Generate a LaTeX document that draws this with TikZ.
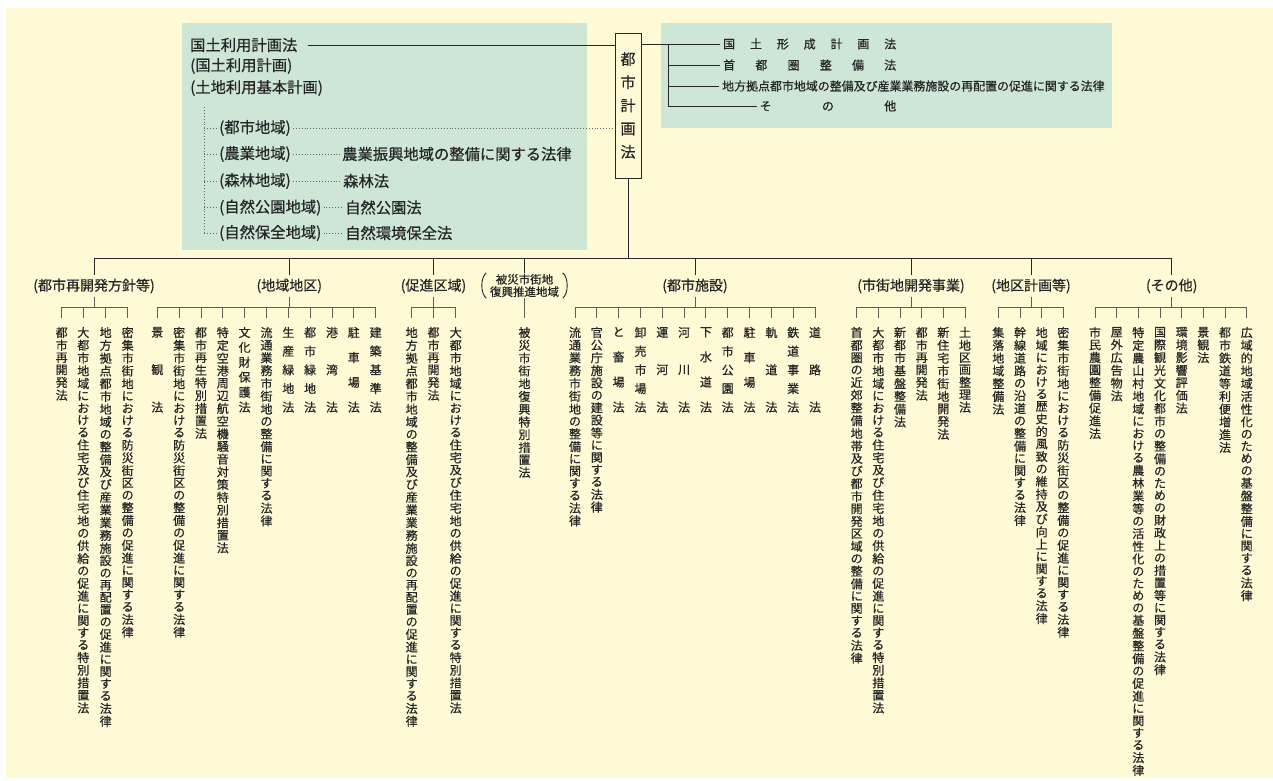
\documentclass[tikz,border=0pt]{standalone}
\usepackage{fontspec}
\setmainfont{Noto Sans CJK JP}[FakeBold=0.6]
\usetikzlibrary{calc}
\definecolor{bgy}{RGB}{255,250,214}
\definecolor{bgg}{RGB}{205,230,214}
\definecolor{ink}{RGB}{38,38,38}
\definecolor{subln}{RGB}{95,95,90}
\newcommand\vtchar[1]{\hbox to 12pt{\hss\vrule width0pt height9.4pt depth2.7pt\relax #1\hss}}
\makeatletter
\def\vt@loop#1{\ifx\relax#1\else\vtchar{#1}\expandafter\vt@loop\fi}
\newcommand\vtxt[1]{\vbox{\offinterlineskip\vt@loop#1\relax}}
\def\vs@first#1{\vtchar{#1}\vs@rest}
\def\vs@rest#1{\ifx\relax#1\else\vfill\vtchar{#1}\expandafter\vs@rest\fi}
\newcommand\vspread[1]{\vbox to 84.7pt{\offinterlineskip\vs@first#1\relax}}
\makeatother
\tikzset{
  ln/.style={draw=ink, line width=0.9pt},
  subl/.style={draw=subln, line width=0.9pt},
  dotl/.style={draw=black!60, line width=0.9pt, dash pattern=on 0.9pt off 2pt},
  lt/.style={anchor=west, inner ysep=0pt, inner xsep=2pt, font=\fontsize{15.3}{16}\selectfont, text=ink},
  rt/.style={anchor=west, inner ysep=0pt, inner xsep=3pt, font=\fontsize{11.95}{13}\selectfont, text=ink},
  cat/.style={inner sep=0pt, minimum height=22pt, font=\fontsize{14}{14}\selectfont, text=ink},
  col/.style={inner sep=0pt, outer ysep=9pt, anchor=north, font=\fontsize{12}{12}\selectfont, text=ink},
}
\begin{document}
\begin{tikzpicture}[x=1pt,y=-1pt]
\useasboundingbox (0,0) rectangle (1273,780);
\fill[white] (0,0) rectangle (1273,780);
\fill[bgy] (6,8) rectangle (1273,778);
\fill[bgg] (182,23) rectangle (587,250);
\fill[bgg] (661,23) rectangle (1112,128);

% title box
\node[draw=ink, line width=0.9pt, fill=bgy, minimum width=26pt, minimum height=145pt, inner sep=0pt, align=center, font=\fontsize{15}{23.2}\selectfont, text=ink] (toshi) at (628,105.5) {都\\市\\計\\画\\法};

% left box
\node[lt] (L0) at (188,45) {国土利用計画法};
\node[lt] (L1) at (188,66) {(国土利用計画)};
\node[lt] (L2) at (188,88) {(土地利用基本計画)};
\coordinate (dl) at (204,107);
\node[lt] (a1) at (217,128) {(都市地域)};
\node[lt] (a2) at (217,154) {(農業地域)};
\node[lt] (a3) at (217,181) {(森林地域)};
\node[lt] (a4) at (217,207.5) {(自然公園地域)};
\node[lt] (a5) at (217,233) {(自然保全地域)};
\node[lt] (b2) at (340,154) {農業振興地域の整備に関する法律};
\node[lt] (b3) at (341,181) {森林法};
\node[lt] (b4) at (343,207.5) {自然公園法};
\node[lt] (b5) at (343,233) {自然環境保全法};
\draw[ln] ([xshift=8pt]L0.east) -- (L0.east -| toshi.west);
\draw[dotl] (dl) -- (dl |- a5);
\foreach \n in {a1,a2,a3,a4,a5} \draw[dotl] (dl |- \n) -- (\n.west);
\draw[dotl] (a1.east) -- (a1.east -| toshi.west);
\draw[dotl] (a2.east) -- (b2.west);
\draw[dotl] (a3.east) -- (b3.west);
\draw[dotl] (a4.east) -- (b4.west);
\draw[dotl] (a5.east) -- (b5.west);

% right box
\node[rt] (r1) at (720,44) {\makebox[173pt][s]{国\hfill 土\hfill 形\hfill 成\hfill 計\hfill 画\hfill 法}};
\node[rt] (r2) at (720,65) {\makebox[173pt][s]{首\hfill 都\hfill 圏\hfill 整\hfill 備\hfill 法}};
\node[rt] (r3) at (719,86) {地方拠点都市地域の整備及び産業業務施設の再配置の促進に関する法律};
\node[rt] (r4) at (756.5,106) {\makebox[136.5pt][s]{そ\hfill の\hfill 他}};
\coordinate (br) at (668,44);
\draw[ln] (toshi.east |- r1) -- (r1.west);
\draw[ln] (br) -- (br |- r4);
\draw[ln] (br |- r2) -- (r2.west);
\draw[ln] (br |- r3) -- (r3.west);
\draw[ln] (br |- r4) -- (r4.west);

% categories
\coordinate (bus) at (0,258);
\coordinate (sb) at (0,307);
\node[cat] (c1) at (94,286) {(都市再開発方針等)};
\node[cat] (c2) at (289.3,286) {(地域地区)};
\node[cat] (c3) at (433.5,286) {(促進区域)};
\node[inner sep=0pt, minimum width=86pt, minimum height=25pt, align=center, font=\fontsize{11.5}{12.4}\selectfont, text=ink] (c4) at (524.5,285.5) {被災市街地\\復興推進地域};
\node[cat] (c5) at (695,286) {(都市施設)};
\node[cat] (c6) at (911,286) {(市街地開発事業)};
\node[cat] (c7) at (1031,286) {(地区計画等)};
\node[cat] (c8) at (1171.7,286) {(その他)};
\draw[ln] ($(c4.north west)+(5,0)$) .. controls ($(c4.west)+(-1,-8)$) and ($(c4.west)+(-1,8)$) .. ($(c4.south west)+(5,0)$);
\draw[ln] ($(c4.north east)+(-5,0)$) .. controls ($(c4.east)+(1,-8)$) and ($(c4.east)+(1,8)$) .. ($(c4.south east)+(-5,0)$);

\draw[ln] (toshi.south) -- (toshi.south |- bus);
\draw[ln] (c1.north |- bus) -- (c8.north |- bus);
\foreach \n in {c1,c2,c3,c4,c5,c6,c7,c8} \draw[ln] (\n.north) -- (\n.north |- bus);
\foreach \n in {c1,c2,c3,c5,c6,c7,c8} \draw[subl] (\n.south) -- (\n.south |- sb);

% group 1
\node[col] (v11) at (61.7,318) {\vtxt{都市再開発法}};
\node[col] (v12) at (83.3,318) {\vtxt{大都市地域における住宅及び住宅地の供給の促進に関する特別措置法}};
\node[col] (v13) at (105.7,318) {\vtxt{地方拠点都市地域の整備及び産業業務施設の再配置の促進に関する法律}};
\node[col] (v14) at (127.7,318) {\vtxt{密集市街地における防災街区の整備の促進に関する法律}};
\draw[subl] (v11.north |- sb) -- (v14.north |- sb);
\foreach \n in {v11,v12,v13,v14} \draw[subl] (\n.north) -- (\n.north |- sb);

% group 2
\node[col] (v21) at (157.3,318) {\vspread{景観法}};
\node[col] (v22) at (179.2,318) {\vtxt{密集市街地における防災街区の整備の促進に関する法律}};
\node[col] (v23) at (201.0,318) {\vtxt{都市再生特別措置法}};
\node[col] (v24) at (222.8,318) {\vtxt{特定空港周辺航空機騒音対策特別措置法}};
\node[col] (v25) at (244.6,318) {\vspread{文化財保護法}};
\node[col] (v26) at (266.5,318) {\vtxt{流通業務市街地の整備に関する法律}};
\node[col] (v27) at (288.3,318) {\vspread{生産緑地法}};
\node[col] (v28) at (310.1,318) {\vspread{都市緑地法}};
\node[col] (v29) at (332.0,318) {\vspread{港湾法}};
\node[col] (v2a) at (353.8,318) {\vspread{駐車場法}};
\node[col] (v2b) at (375.7,318) {\vspread{建築基準法}};
\draw[subl] (v21.north |- sb) -- (v2b.north |- sb);
\foreach \n in {v21,v22,v23,v24,v25,v26,v27,v28,v29,v2a,v2b} \draw[subl] (\n.north) -- (\n.north |- sb);

% group 3
\node[col] (v31) at (411.7,318) {\vtxt{地方拠点都市地域の整備及び産業業務施設の再配置の促進に関する法律}};
\node[col] (v32) at (433.5,318) {\vtxt{都市再開発法}};
\node[col] (v33) at (455.7,318) {\vtxt{大都市地域における住宅及び住宅地の供給の促進に関する特別措置法}};
\draw[subl] (v31.north |- sb) -- (v33.north |- sb);
\foreach \n in {v31,v32,v33} \draw[subl] (\n.north) -- (\n.north |- sb);

% group 4
\node[col] (v41) at (524.5,318) {\vtxt{被災市街地復興特別措置法}};
\draw[subl] (c4.south) -- (v41.north);

% group 5
\node[col] (v51) at (575.0,318) {\vtxt{流通業務市街地の整備に関する法律}};
\node[col] (v52) at (596.8,318) {\vtxt{官公庁施設の建設等に関する法律}};
\node[col] (v53) at (618.6,318) {\vspread{と畜場法}};
\node[col] (v54) at (640.5,318) {\vspread{卸売市場法}};
\node[col] (v55) at (662.3,318) {\vspread{運河法}};
\node[col] (v56) at (684.1,318) {\vspread{河川法}};
\node[col] (v57) at (705.9,318) {\vspread{下水道法}};
\node[col] (v58) at (727.7,318) {\vspread{都市公園法}};
\node[col] (v59) at (749.5,318) {\vspread{駐車場法}};
\node[col] (v5a) at (771.4,318) {\vspread{軌道法}};
\node[col] (v5b) at (793.2,318) {\vspread{鉄道事業法}};
\node[col] (v5c) at (815.0,318) {\vspread{道路法}};
\draw[subl] (v51.north |- sb) -- (v5c.north |- sb);
\foreach \n in {v51,v52,v53,v54,v55,v56,v57,v58,v59,v5a,v5b,v5c} \draw[subl] (\n.north) -- (\n.north |- sb);

% group 6
\node[col] (v61) at (856.7,318) {\vtxt{首都圏の近郊整備地帯及び都市開発区域の整備に関する法律}};
\node[col] (v62) at (878.3,318) {\vtxt{大都市地域における住宅及び住宅地の供給の促進に関する特別措置法}};
\node[col] (v63) at (900.0,318) {\vtxt{新都市基盤整備法}};
\node[col] (v64) at (921.7,318) {\vtxt{都市再開発法}};
\node[col] (v65) at (943.3,318) {\vtxt{新住宅市街地開発法}};
\node[col] (v66) at (965.0,318) {\vtxt{土地区画整理法}};
\draw[subl] (v61.north |- sb) -- (v66.north |- sb);
\foreach \n in {v61,v62,v63,v64,v65,v66} \draw[subl] (\n.north) -- (\n.north |- sb);

% group 7
\node[col] (v71) at (998.3,318) {\vtxt{集落地域整備法}};
\node[col] (v72) at (1020.0,318) {\vtxt{幹線道路の沿道の整備に関する法律}};
\node[col] (v73) at (1041.7,318) {\vtxt{地域における歴史的風致の維持及び向上に関する法律}};
\node[col] (v74) at (1063.3,318) {\vtxt{密集市街地における防災街区の整備の促進に関する法律}};
\draw[subl] (v71.north |- sb) -- (v74.north |- sb);
\foreach \n in {v71,v72,v73,v74} \draw[subl] (\n.north) -- (\n.north |- sb);

% group 8
\node[col] (v81) at (1095.0,318) {\vtxt{市民農園整備促進法}};
\node[col] (v82) at (1116.7,318) {\vtxt{屋外広告物法}};
\node[col] (v83) at (1138.3,318) {\vtxt{特定農山村地域における農林業等の活性化のための基盤整備の促進に関する法律}};
\node[col] (v84) at (1160.0,318) {\vtxt{国際観光文化都市の整備のための財政上の措置等に関する法律}};
\node[col] (v85) at (1181.7,318) {\vtxt{環境影響評価法}};
\node[col] (v86) at (1203.3,318) {\vtxt{景観法}};
\node[col] (v87) at (1225.0,318) {\vtxt{都市鉄道等利便増進法}};
\node[col] (v88) at (1246.7,318) {\vtxt{広域的地域活性化のための基盤整備に関する法律}};
\draw[subl] (v81.north |- sb) -- (v88.north |- sb);
\foreach \n in {v81,v82,v83,v84,v85,v86,v87,v88} \draw[subl] (\n.north) -- (\n.north |- sb);
\end{tikzpicture}
\end{document}
